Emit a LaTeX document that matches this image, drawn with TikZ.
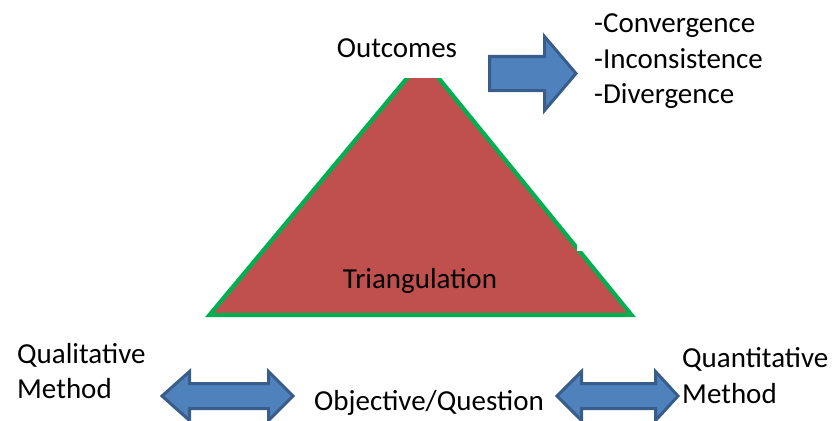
\documentclass[tikz,border=0pt]{standalone}
\usepackage{fontspec}
\setmainfont{Carlito}
\definecolor{triRed}{HTML}{C0504D}
\definecolor{triGreen}{HTML}{00B050}
\definecolor{arrFill}{HTML}{4F81BD}
\definecolor{arrLine}{HTML}{385D8A}
\begin{document}
\begin{tikzpicture}[x=1pt,y=-1pt,
  lbl/.style={inner sep=0pt,font=\fontsize{29}{35}\selectfont},
  blockarrow/.style={fill=arrFill,draw=arrLine,line width=3pt,line join=miter}]
\useasboundingbox (0,0) rectangle (834,420);
\clip (0,0) rectangle (834,420);

% truncated triangle
\begin{scope}
  \clip (0,78) rectangle (834,420);
  \draw[fill=triRed,draw=triGreen,line width=4.2pt,line join=miter]
    (209.5,315) -- (423,59) -- (631.5,315) -- cycle;
\end{scope}
% small gap in the right edge
\fill[white] (576.5,238) rectangle (590,251);

% arrow towards the outcomes
\draw[blockarrow] (489.5,56.5) -- (544.5,56.5) -- (544.5,36.5) -- (576,73.5)
  -- (544.5,110.5) -- (544.5,90.5) -- (489.5,90.5) -- cycle;

% left double arrow
\draw[blockarrow] (162,396) -- (189.5,371.5) -- (189.5,383.5) -- (268.5,383.5)
  -- (268.5,371.5) -- (293,396) -- (268.5,420.5) -- (268.5,408.5)
  -- (189.5,408.5) -- (189.5,420.5) -- cycle;

% right double arrow
\draw[blockarrow] (557,396) -- (581.5,371.5) -- (581.5,383.5) -- (655.5,383.5)
  -- (655.5,371.5) -- (678,396) -- (655.5,420.5) -- (655.5,408.5)
  -- (581.5,408.5) -- (581.5,420.5) -- cycle;

% labels
\node[lbl,anchor=base] (outc) at (397,57) {Outcomes};
\node[lbl,anchor=base west] (conv) at (594,33) {-Convergence};
\node[lbl,anchor=base west] (inco) at (594,68) {-Inconsistence};
\node[lbl,anchor=base west] (dive) at (594,103) {-Divergence};
\node[lbl,anchor=base] (tri) at (420,288) {Triangulation};
\node[lbl,anchor=base west] (qual) at (17,363) {Qualitative};
\node[lbl,anchor=base west] (qualm) at (17,398) {Method};
\node[lbl,anchor=base west] (obj) at (314,410) {Objective/Question};
\node[lbl,anchor=base west] (quan) at (682,367) {Quantitative};
\node[lbl,anchor=base west] (quanm) at (682,403) {Method};
\end{tikzpicture}
\end{document}
